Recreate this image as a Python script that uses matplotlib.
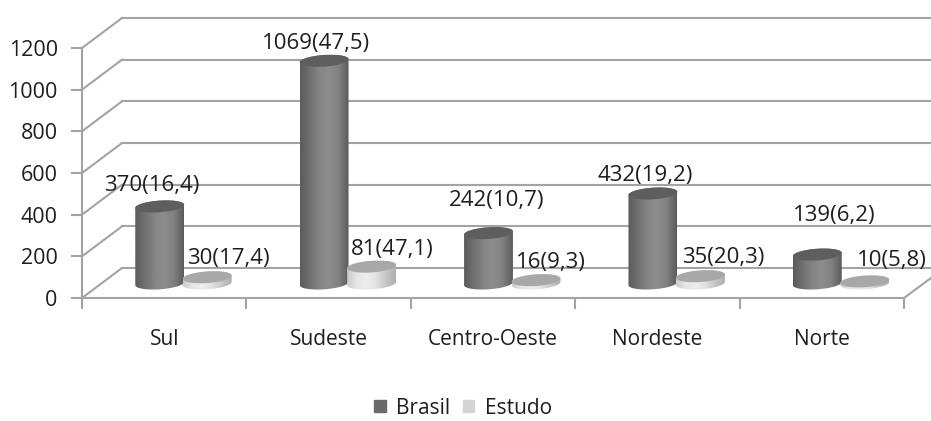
#Regional distribution chart, Brasil vs Estudo, drawn as fake 3D cylinders

import numpy as np
import matplotlib
matplotlib.use('Agg')
import matplotlib.pyplot as plt
from matplotlib.patches import Patch, PathPatch, Polygon
from matplotlib.path import Path

regions = ['Sul', 'Sudeste', 'Centro-Oeste', 'Nordeste', 'Norte']
brasil = [370, 1069, 242, 432, 139]
estudo = [30, 81, 16, 35, 10]
brasil_pct = ['16,4', '47,5', '10,7', '19,2', '6,2']
estudo_pct = ['17,4', '47,1', '9,3', '20,3', '5,8']
yticks = [0, 200, 400, 600, 800, 1000, 1200]

plt.rcParams['font.family'] = ['Open Sans', 'DejaVu Sans']
TEXT = '#1e1e1e'
GRID = '#a3a3a3'

fig = plt.figure(figsize=(9.31, 4.21), dpi=100)
ax = fig.add_axes([82 / 931, (421 - 298) / 421, (904 - 82) / 931, 250 / 421])

# data units per pixel
ux = 5 / (904 - 82)
uy = 1200 / 250


def cylinder_outline(cx, value, a=24.5, b=5.8, tilt=4):
    # top half of the upper ellipse then bottom half of the base ellipse
    th = np.radians(tilt)
    t = np.linspace(0, 2 * np.pi, 80)
    ex = a * np.cos(t) * np.cos(th) - b * np.sin(t) * np.sin(th)
    ey = a * np.cos(t) * np.sin(th) + b * np.sin(t) * np.cos(th)
    base = 14.5 * uy
    top = np.column_stack([cx + ex * ux, value + base + ey * uy])
    bot = np.column_stack([cx + ex * ux, base + ey * uy])
    body = np.vstack([top[:40], bot[40:], top[:1]])
    return top, body


def draw_cylinder(cx, value, shades, top_color, z):
    top, body = cylinder_outline(cx, value)
    left, right = body[:, 0].min(), body[:, 0].max()
    low, high = body[:, 1].min(), body[:, 1].max()
    ramp = np.interp(np.linspace(0, 1, 64), np.linspace(0, 1, len(shades)), shades)
    im = ax.imshow(ramp[None, :], extent=[left, right, low, high], cmap='gray', vmin=0, vmax=1,
                   aspect='auto', zorder=z, interpolation='bilinear')
    clip = PathPatch(Path(body), transform=ax.transData, facecolor='none', edgecolor='none')
    ax.add_patch(clip)
    im.set_clip_path(clip)
    ax.add_patch(Polygon(top, closed=True, facecolor=top_color, edgecolor='none', zorder=z + 0.1))


# left wall, back wall and floor lines
for v in yticks:
    ax.plot([0, 40 * ux], [v, v + 30 * uy], color=GRID, lw=1.5, clip_on=False, zorder=1)
    ax.plot([40 * ux, 5 + 27 * ux], [v + 30 * uy, v + 30 * uy], color=GRID, lw=1.5, clip_on=False, zorder=1)
ax.plot([5, 5 + 27 * ux], [0, 20 * uy], color=GRID, lw=1.5, clip_on=False, zorder=1)

brasil_shades = [0.36, 0.44, 0.52, 0.55, 0.50, 0.36]
estudo_shades = [0.80, 0.90, 0.93, 0.88, 0.78, 0.68]

# label offsets from the top of each bar, in pixels
brasil_off = [(-8, 21), (-8, 18), (8, 33), (-8, 18), (17, 40)]
estudo_off = [(21, 19), (21, 18), (15, 18), (23, 19), (27, 21)]

for i in range(len(regions)):
    xb = i + 0.5 - 4.5 * ux
    xe = xb + 47.5 * ux
    draw_cylinder(xb, brasil[i], brasil_shades, '#5e5e5e', 3 + i)
    draw_cylinder(xe, estudo[i], estudo_shades, '#a8a8a8', 3.5 + i)
    ax.annotate(f'{brasil[i]}({brasil_pct[i]})', (xb, brasil[i] + 14 * uy), xytext=brasil_off[i],
                textcoords='offset pixels', ha='center', va='center', fontsize=16, color=TEXT, zorder=20)
    ax.annotate(f'{estudo[i]}({estudo_pct[i]})', (xe, estudo[i] + 14 * uy), xytext=estudo_off[i],
                textcoords='offset pixels', ha='center', va='center', fontsize=16, color=TEXT, zorder=20)

ax.set_xlim(0, 5)
ax.set_ylim(0, 1200)
ax.patch.set_alpha(0)
for side in ['top', 'right']:
    ax.spines[side].set_visible(False)
for side in ['left', 'bottom']:
    ax.spines[side].set_color(GRID)
    ax.spines[side].set_linewidth(1.5)

ax.set_yticks(yticks)
ax.tick_params(axis='y', length=8, width=1.5, color=GRID, labelsize=15.5, labelcolor=TEXT, pad=9.5)
ax.set_xticks(range(6))
ax.set_xticklabels([])
ax.tick_params(axis='x', which='major', length=8, width=1.5, color=GRID)
ax.set_xticks(np.arange(5) + 0.5, minor=True)
ax.set_xticklabels(regions, minor=True)
ax.tick_params(axis='x', which='minor', length=0, labelsize=15, labelcolor=TEXT, pad=22)

handles = [Patch(color='#6a6a6a', label='Brasil'), Patch(color='#d4d4d4', label='Estudo')]
fig.legend(handles=handles, loc='center', bbox_to_anchor=(463 / 931, (421 - 408) / 421), ncol=2, frameon=False,
           fontsize=15, handlelength=0.55, handleheight=0.55, handletextpad=0.5, columnspacing=0.6,
           labelcolor=TEXT, borderpad=0)

fig.savefig('out.png', dpi=100)
plt.close(fig)
